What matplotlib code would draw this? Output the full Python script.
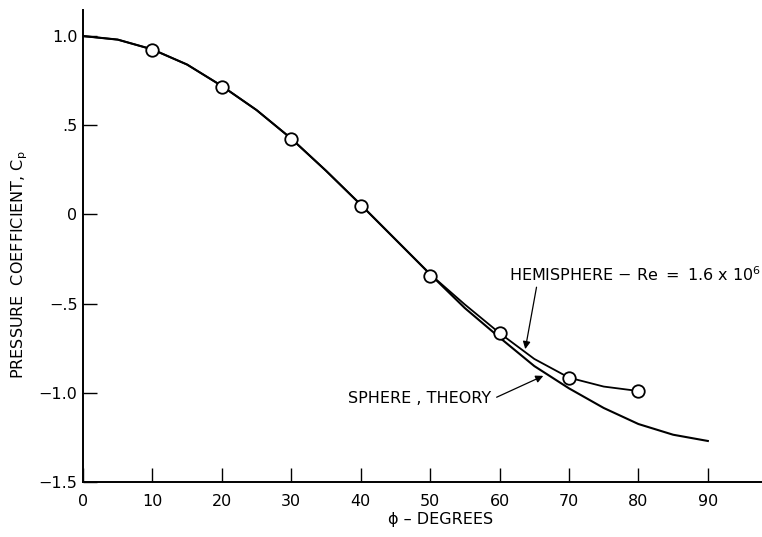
import matplotlib.pyplot as plt
import numpy as np

# ============================================================
# PRESSURE DISTRIBUTION - SPHERE THEORY vs HEMISPHERE
# ============================================================

# sphere, theory (faired curve)
phi_theory = [0, 5, 10, 15, 20, 25, 30, 35, 40, 45, 50, 55, 60, 65, 70, 75, 80, 85, 90]
cp_theory = [1.0, 0.98, 0.925, 0.84, 0.72, 0.585, 0.425, 0.245, 0.055, -0.14, -0.335,
             -0.525, -0.69, -0.85, -0.975, -1.085, -1.175, -1.235, -1.27]

# hemisphere, faired curve
phi_hemi_curve = [0, 5, 10, 15, 20, 25, 30, 35, 40, 45, 50, 55, 60, 65, 70, 75, 80]
cp_hemi_curve = [1.0, 0.98, 0.925, 0.84, 0.72, 0.585, 0.425, 0.245, 0.055, -0.14, -0.335,
                 -0.505, -0.665, -0.81, -0.915, -0.965, -0.99]

# hemisphere, measured points (Re = 1.6 x 10^6)
phi_hemi = [10, 20, 30, 40, 50, 60, 70, 80]
cp_hemi = [0.922, 0.714, 0.422, 0.047, -0.345, -0.664, -0.917, -0.99]

x_ticks = [0, 10, 20, 30, 40, 50, 60, 70, 80, 90]
y_ticks = [1.0, 0.5, 0.0, -0.5, -1.0, -1.5]
y_ticklabels = ["1.0", ".5", "0", "\u2212.5", "\u22121.0", "\u22121.5"]

# ============================================================
# FIGURE
# ============================================================

plt.rcParams["font.family"] = ["DejaVu Sans"]

fig = plt.figure(figsize=(7.62, 5.37), dpi=100)
ax = fig.add_axes([83 / 762, 55 / 537, 679 / 762, 472 / 537])

ax.plot(phi_theory, cp_theory, color="black", linewidth=1.5)
ax.plot(phi_hemi_curve, cp_hemi_curve, color="black", linewidth=1.3)
ax.plot(
    phi_hemi,
    cp_hemi,
    linestyle="none",
    marker="o",
    markersize=9,
    markerfacecolor="white",
    markeredgecolor="black",
    markeredgewidth=1.3,
    zorder=3
)

ax.set_xlim(0, 97.8)
ax.set_ylim(-1.5, 1.146)

for side in ["top", "right"]:
    ax.spines[side].set_visible(False)
for side in ["left", "bottom"]:
    ax.spines[side].set_linewidth(1.4)

ax.set_xticks(x_ticks)
ax.set_xticklabels([str(t) for t in x_ticks])
ax.set_yticks(y_ticks)
ax.set_yticklabels(y_ticklabels)

ax.tick_params(axis="x", direction="in", length=10, width=1.0, pad=9, labelsize=11.5)
ax.tick_params(axis="y", direction="in", length=10, width=1.0, pad=4, labelsize=11.5)

# axis titles
ax.set_xlabel("\u03d5 \u2013 DEGREES", fontsize=11.5)
ax.xaxis.set_label_coords(0.527, -0.064)

fig.text(
    20 / 762,
    1 - 265 / 537,
    r"PRESSURE  COEFFICIENT, C$_\mathregular{p}$",
    rotation=90,
    ha="center",
    va="center",
    fontsize=11.5
)

# ============================================================
# CURVE LABELS
# ============================================================

ax.annotate(
    r"HEMISPHERE $-$ Re $=$ 1.6 x 10$^\mathregular{6}$",
    xy=(63.7, -0.755),
    xytext=(61.4, -0.34),
    fontsize=11.5,
    ha="left",
    va="center",
    arrowprops=dict(arrowstyle="-|>", color="black", lw=0.9,
                    mutation_scale=11, shrinkA=0, shrinkB=0,
                    relpos=(0.11, 0.0))
)

ax.annotate(
    "SPHERE , THEORY",
    xy=(66.3, -0.905),
    xytext=(38.2, -1.03),
    fontsize=11.5,
    ha="left",
    va="center",
    arrowprops=dict(arrowstyle="-|>", color="black", lw=0.9,
                    mutation_scale=11, shrinkA=2, shrinkB=0,
                    relpos=(1.0, 0.4))
)

plt.savefig("out.png", dpi=100)
